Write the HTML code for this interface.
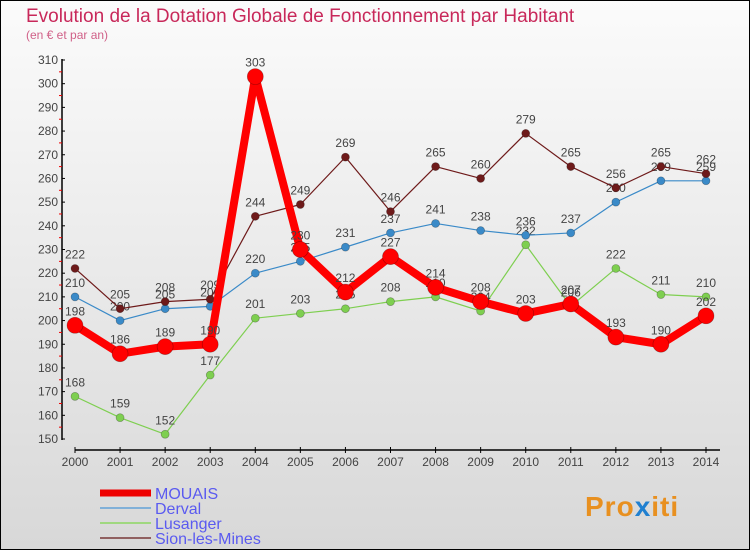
<!DOCTYPE html>
<html><head><meta charset="utf-8"><style>
body{margin:0;width:750px;height:550px;overflow:hidden;font-family:"Liberation Sans",sans-serif}
svg{display:block}
</style></head><body>
<svg width="750" height="550" xmlns="http://www.w3.org/2000/svg">
<defs><linearGradient id="bg" x1="0" y1="0" x2="0" y2="1"><stop offset="0" stop-color="#fbfbfb"/><stop offset="1" stop-color="#d8d8d8"/></linearGradient></defs>
<rect x="0.5" y="0.5" width="749" height="549" fill="url(#bg)" stroke="#000"/>
<text x="26" y="22" font-size="19" fill="#c8285a">Evolution de la Dotation Globale de Fonctionnement par Habitant</text>
<text x="26" y="39" font-size="12" fill="#d06088">(en € et par an)</text>
<g id="axes"></g>
<g id="series"></g>
<g id="legend"></g>
<g><text x="585" y="516" font-size="28" font-weight="bold" fill="#e89020" letter-spacing="1">Pro<tspan fill="#2080d0">x</tspan>iti</text></g>
</svg>
<script>
const years=[2000,2001,2002,2003,2004,2005,2006,2007,2008,2009,2010,2011,2012,2013,2014];
const yTicks=[150,160,170,180,190,200,210,220,230,240,250,260,270,280,290,300,310];
const mouais=[198,186,189,190,303,230,212,227,214,208,203,207,193,190,202];
const derval=[210,200,205,206,220,225,231,237,241,238,236,237,250,259,259];
const lusanger=[168,159,152,177,201,203,205,208,210,204,232,206,222,211,210];
const sion=[222,205,208,209,244,249,269,246,265,260,279,265,256,265,262];
const NS="http://www.w3.org/2000/svg";
const x=i=>75+i*(631/14);
const y=v=>60+(310-v)*(379/160);
function mk(t,a,p){const e=document.createElementNS(NS,t);for(const k in a)e.setAttribute(k,a[k]);p.appendChild(e);return e;}
const ax=document.getElementById('axes');
const yl=mk('line',{x1:62,y1:59,x2:62,y2:440,stroke:'#000','stroke-width':1.5},ax);


yTicks.forEach(v=>{
 mk('line',{x1:62,y1:y(v),x2:65,y2:y(v),stroke:'#000'},ax);
 if(v<310)mk('line',{x1:59,y1:y(v+5),x2:62,y2:y(v+5),stroke:'#e00'},ax);
 const t=mk('text',{x:58,y:y(v)+4,'font-size':12,'text-anchor':'end',fill:'#444'},ax);t.textContent=v;
 
 
});
const xl=mk('line',{x1:75,y1:450,x2:720,y2:450,stroke:'#000','stroke-width':1.5},ax);


years.forEach((yr,i)=>{
 mk('line',{x1:x(i),y1:447,x2:x(i),y2:453,stroke:'#000'},ax);
 const t=mk('text',{x:x(i),y:466,'font-size':12,'text-anchor':'middle',fill:'#444'},ax);t.textContent=yr;
 
 
});
const sg=document.getElementById('series');
function series(vals,color,w,r,name){
 const g=mk('g',{},sg);
 
 
 mk('polyline',{points:vals.map((v,i)=>x(i)+','+y(v)).join(' '),fill:'none',stroke:color,'stroke-width':w,'stroke-linejoin':'round'},g);
 vals.forEach((v,i)=>{
  const c=mk('circle',{cx:x(i),cy:y(v),r:r,fill:color,stroke:'rgba(0,0,0,0.3)','stroke-width':0.7},g);
  
  
  const t=mk('text',{x:x(i),y:y(v)-10,'font-size':12,'text-anchor':'middle',fill:'#444'},g);t.textContent=v;
  
  
 });
}
series(lusanger,'#7ecf50',1.2,4,'lusanger');
series(derval,'#3a8ac8',1.2,4,'derval');
series(sion,'#6e1a1a',1.2,4,'sion-les-mines');
series(mouais,'#ff0000',8,8,'mouais');
const lg=document.getElementById('legend');
[['MOUAIS','#ee0000',7],['Derval','#80b0d8',2],['Lusanger','#a0d880',2],['Sion-les-Mines','#906060',2]].forEach((d,i)=>{
 const g=mk('g',{},lg);
 
 
 const yy=493+i*15;
 mk('line',{x1:100,y1:yy,x2:151,y2:yy,stroke:d[1],'stroke-width':d[2]},g);
 const t=mk('text',{x:155,y:yy+6,'font-size':16,fill:'#5a5af0'},g);t.textContent=d[0];
});
</script>
</body></html>
